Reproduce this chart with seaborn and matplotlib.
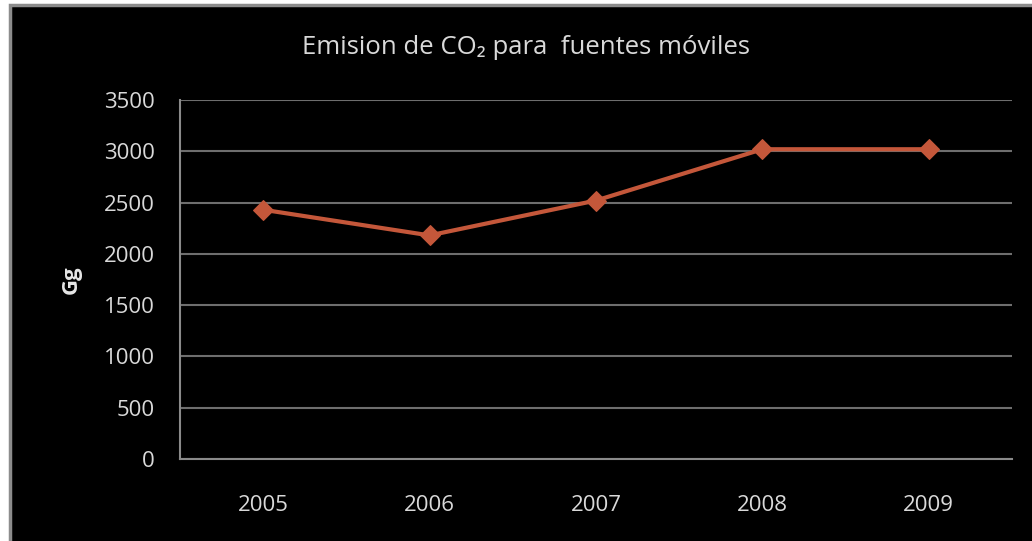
import matplotlib
matplotlib.use("Agg")
import matplotlib.pyplot as plt
import seaborn as sns
import pandas as pd
from matplotlib.patches import Rectangle

years = ["2005", "2006", "2007", "2008", "2009"]
emisiones = [2430, 2180, 2520, 3020, 3020]
yticks = [0, 500, 1000, 1500, 2000, 2500, 3000, 3500]

sns.set_theme(style="dark")
plt.rcParams['font.family'] = ['Open Sans', 'DejaVu Sans']

df = pd.DataFrame({"Año": years, "Gg": emisiones})

fig = plt.figure(figsize=(10.32, 5.41), dpi=100)
fig.patch.set_facecolor("white")
# black chart frame with gray border
fig.add_artist(Rectangle((10/1032, -0.05), 1.1, 1 - 5.5/541 + 0.05, transform=fig.transFigure,
                         facecolor="black", edgecolor="#8c8c8c", linewidth=2.5, zorder=0))

ax = fig.add_axes([180/1032, 1 - 459/541, 832/1032, 359/541])
ax.set_facecolor("black")
sns.lineplot(data=df, x="Año", y="Gg", ax=ax, sort=False, color="#c4573a",
             linewidth=3, marker="D", markersize=10, markeredgecolor="#c4573a")

ax.set_xlim(-0.5, 4.5)
ax.set_ylim(0, 3500)
ax.set_yticks(yticks)
ax.set_yticklabels([str(v) for v in yticks])
ax.grid(axis="y", color="#6e6e6e", linewidth=1.5)
ax.grid(axis="x", visible=False)
ax.set_axisbelow(True)
for s in ["top", "right"]:
    ax.spines[s].set_visible(False)
for s in ["left", "bottom"]:
    ax.spines[s].set_visible(True)
    ax.spines[s].set_color("#8a8a8a")
    ax.spines[s].set_linewidth(1.5)
ax.tick_params(axis="both", colors="#d9d9d9", labelsize=16, length=0)
ax.tick_params(axis="y", pad=18)
ax.tick_params(axis="x", pad=26)
ax.set_xlabel("")
ax.set_ylabel("Gg", color="#e6e6e6", fontsize=16, fontweight="bold", labelpad=16)

fig.text(526/1032, 1 - 48/541, "Emision de CO₂ para  fuentes móviles", ha="center", va="center",
         color="#d9d9d9", fontsize=18.5, family=['Open Sans', 'DejaVu Sans'])

fig.savefig("out.png", dpi=100, facecolor=fig.get_facecolor())
